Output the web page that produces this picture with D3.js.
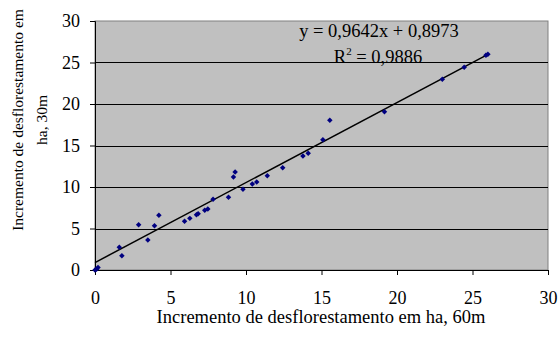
<!DOCTYPE html>
<html>
<head>
<meta charset="utf-8">
<script src="https://cdn.jsdelivr.net/npm/d3@7"></script>
<style>
  html, body { margin: 0; padding: 0; background: #fff; }
  svg { display: block; }
  text { font-family: "Liberation Serif", "Times New Roman", serif; fill: #000; }
</style>
</head>
<body>
<svg id="chart" width="560" height="347"></svg>
<script>
// Deforestation increment (ha): 60 m vs 30 m resolution
const incr60m = [0, 0.1, 0.2, 1.61, 1.78, 2.89, 3.50, 3.94, 4.23, 5.93, 6.28, 6.72, 6.83,
  7.27, 7.47, 7.82, 8.84, 9.17, 9.28, 9.80, 10.42, 10.71, 11.41, 12.43,
  13.77, 14.12, 15.09, 15.55, 19.17, 23.0, 24.45, 25.89, 26.02];
const incr30m = [0, 0.1, 0.3, 2.73, 1.73, 5.46, 3.61, 5.34, 6.59, 5.86, 6.22, 6.66, 6.78,
  7.19, 7.35, 8.52, 8.76, 11.2, 11.8, 9.72, 10.36, 10.60, 11.36, 12.33,
  13.73, 14.06, 15.70, 18.03, 19.07, 22.97, 24.42, 25.87, 25.99];

// Linear trend fitted to the series
const slope = 0.9642;
const intercept = 0.8973;
const r2 = 0.9886;

const xTicks = [0, 5, 10, 15, 20, 25, 30];
const yTicks = [0, 5, 10, 15, 20, 25, 30];
const xTitle = "Incremento de desflorestamento em ha, 60m";
const yTitleLines = ["Incremento de desflorestamento em", "ha, 30m"];

const svg = d3.select("#chart");
const plot = { left: 95, right: 548, top: 21, bottom: 270 };

const x = d3.scaleLinear().domain([0, 30]).range([plot.left, plot.right]);
const y = d3.scaleLinear().domain([0, 30]).range([plot.bottom, plot.top]);

// Plot area background and frame
svg.append("rect")
  .attr("x", plot.left).attr("y", plot.top)
  .attr("width", plot.right - plot.left).attr("height", plot.bottom - plot.top)
  .attr("fill", "#c0c0c0")
  .attr("stroke", "#808080").attr("stroke-width", 1);

// Horizontal gridlines
svg.append("g")
  .selectAll("line")
  .data(yTicks.filter(d => d > 0 && d < 30))
  .join("line")
  .attr("x1", plot.left).attr("x2", plot.right)
  .attr("y1", d => Math.round(y(d)) + 0.5).attr("y2", d => Math.round(y(d)) + 0.5)
  .attr("stroke", "#000").attr("stroke-width", 1);

// Axes
const xAxis = svg.append("g")
  .attr("transform", `translate(0,${plot.bottom})`)
  .call(d3.axisBottom(x).tickValues(xTicks).tickSize(5).tickPadding(16).tickFormat(d3.format("d")));
const yAxis = svg.append("g")
  .attr("transform", `translate(${plot.left},0)`)
  .call(d3.axisLeft(y).tickValues(yTicks).tickSize(5).tickPadding(10).tickFormat(d3.format("d")));

[xAxis, yAxis].forEach(g => {
  g.select(".domain").attr("stroke", "#000");
  g.selectAll(".tick line").attr("stroke", "#000");
  g.selectAll(".tick text")
    .style("font-family", '"Liberation Serif", "Times New Roman", serif')
    .style("font-size", "18px")
    .attr("fill", "#000");
});

// Trend line
const xMax = d3.max(incr60m);
svg.append("line")
  .attr("x1", x(0)).attr("y1", y(intercept))
  .attr("x2", x(xMax)).attr("y2", y(slope * xMax + intercept))
  .attr("stroke", "#000").attr("stroke-width", 1.5);

// Data points (square diamonds)
const pts = incr60m.map((v, i) => [v, incr30m[i]]);
svg.append("g")
  .selectAll("path")
  .data(pts)
  .join("path")
  .attr("transform", d => `translate(${x(d[0])},${y(d[1])}) rotate(45)`)
  .attr("d", d3.symbol().type(d3.symbolSquare).size(15))
  .attr("fill", "#000080");

// Equation and R²
svg.append("text")
  .attr("x", 379).attr("y", 37)
  .attr("text-anchor", "middle")
  .style("font-size", "18.5px")
  .text(`y = ${String(slope).replace(".", ",")}x + ${String(intercept).replace(".", ",")}`);

const r2Text = svg.append("text")
  .attr("x", 378).attr("y", 63)
  .attr("text-anchor", "middle")
  .style("font-size", "18.5px");
r2Text.append("tspan").text("R");
r2Text.append("tspan").attr("dy", -8).style("font-size", "11px").text("2");
r2Text.append("tspan").attr("dy", 8).text(` = ${String(r2).replace(".", ",")}`);

// Axis titles
svg.append("text")
  .attr("x", 321).attr("y", 323)
  .attr("text-anchor", "middle")
  .style("font-size", "18.5px")
  .text(xTitle);

const yTitle = svg.append("text")
  .attr("transform", "translate(0,120) rotate(-90)")
  .attr("text-anchor", "middle")
  .style("font-size", "15.5px");
yTitleLines.forEach((t, i) => {
  yTitle.append("tspan").attr("x", 0).attr("y", 23 + i * 24).text(t);
});
</script>
</body>
</html>
